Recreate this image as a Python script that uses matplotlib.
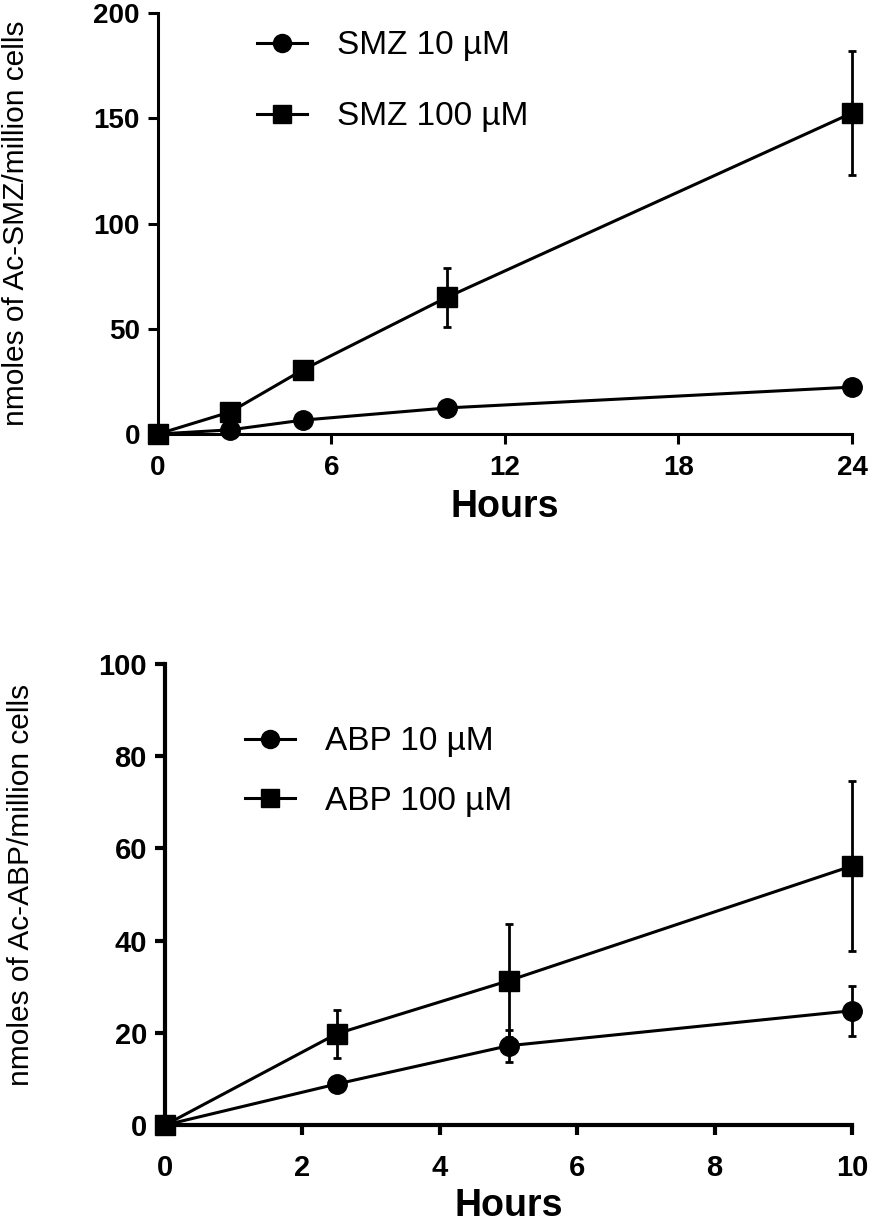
import matplotlib
matplotlib.use('Agg')
import matplotlib.pyplot as plt
from matplotlib.lines import Line2D

plt.rcParams['font.family'] = ['Liberation Sans', 'DejaVu Sans']

# SMZ panel
smz_hours = [0, 2.5, 5, 10, 24]
smz10 = [0, 2.0, 6.6, 12.4, 22.3]
smz10_err = [0, 0.5, 1.0, 1.5, 2.0]
smz100 = [0, 10.5, 30.4, 65, 152.5]
smz100_err = [0, 2.0, 4.0, 14, 29.5]

# ABP panel
abp_hours = [0, 2.5, 5, 10]
abp10 = [0, 8.9, 17.2, 24.8]
abp10_err = [0, 0.8, 3.5, 5.4]
abp100 = [0, 19.8, 31.3, 56.2]
abp100_err = [0, 5.2, 12.2, 18.5]


def style_axis(ax, lw, size, pad):
    ax.spines['top'].set_visible(False)
    ax.spines['right'].set_visible(False)
    ax.spines['left'].set_linewidth(lw)
    ax.spines['bottom'].set_linewidth(lw)
    ax.tick_params(width=lw, length=7, direction='out', labelsize=size, pad=6)
    ax.tick_params(axis='x', pad=pad)
    for lab in ax.get_xticklabels() + ax.get_yticklabels():
        lab.set_fontweight('bold')


def legend_handles(labels):
    return [Line2D([], [], color='black', marker='o', markersize=13, linewidth=2.2, label=labels[0]),
            Line2D([], [], color='black', marker='s', markersize=13, linewidth=2.2, label=labels[1])]


fig = plt.figure(figsize=(8.7, 12.23), dpi=100)

# Top chart
ax1 = fig.add_axes([0.1816, 0.6451, 0.7977, 0.3443])
ax1.errorbar(smz_hours, smz10, yerr=smz10_err, color='black', marker='o', markersize=14,
             linewidth=2.2, elinewidth=2, capsize=3, capthick=2, clip_on=False)
ax1.errorbar(smz_hours, smz100, yerr=smz100_err, color='black', marker='s', markersize=14,
             linewidth=2.2, elinewidth=2, capsize=3, capthick=2, clip_on=False)
ax1.set_xlim(0, 24)
ax1.set_ylim(0, 200)
ax1.set_xticks([0, 6, 12, 18, 24])
ax1.set_yticks([0, 50, 100, 150, 200])
style_axis(ax1, 2.2, 20, 8)
ax1.set_xlabel('Hours', fontsize=27, fontweight='bold', labelpad=6)
ax1.set_ylabel('nmoles of Ac-SMZ/million cells', fontsize=21.5)
ax1.yaxis.set_label_coords(-0.184, 0.5)
ax1.legend(handles=legend_handles(['SMZ 10 µM', 'SMZ 100 µM']), loc='upper left',
           bbox_to_anchor=(0.1, 1.03), frameon=False, fontsize=24,
           handlelength=1.5, labelspacing=1.2, handletextpad=0.9)

# Bottom chart
ax2 = fig.add_axes([0.1897, 0.0801, 0.7897, 0.377])
ax2.errorbar(abp_hours, abp10, yerr=abp10_err, color='black', marker='o', markersize=14,
             linewidth=2.2, elinewidth=2, capsize=3, capthick=2, clip_on=False)
ax2.errorbar(abp_hours, abp100, yerr=abp100_err, color='black', marker='s', markersize=14,
             linewidth=2.2, elinewidth=2, capsize=3, capthick=2, clip_on=False)
ax2.set_xlim(0, 10)
ax2.set_ylim(0, 100)
ax2.set_xticks([0, 2, 4, 6, 8, 10])
ax2.set_yticks([0, 20, 40, 60, 80, 100])
style_axis(ax2, 3, 21, 14)
ax2.set_xlabel('Hours', fontsize=27, fontweight='bold', labelpad=4)
ax2.set_ylabel('nmoles of Ac-ABP/million cells', fontsize=21.5)
ax2.yaxis.set_label_coords(-0.189, 0.52)
ax2.legend(handles=legend_handles(['ABP 10 µM', 'ABP 100 µM']), loc='upper left',
           bbox_to_anchor=(0.073, 0.93), frameon=False, fontsize=24,
           handlelength=1.5, labelspacing=0.85, handletextpad=0.9)

fig.savefig('out.png', dpi=100)
